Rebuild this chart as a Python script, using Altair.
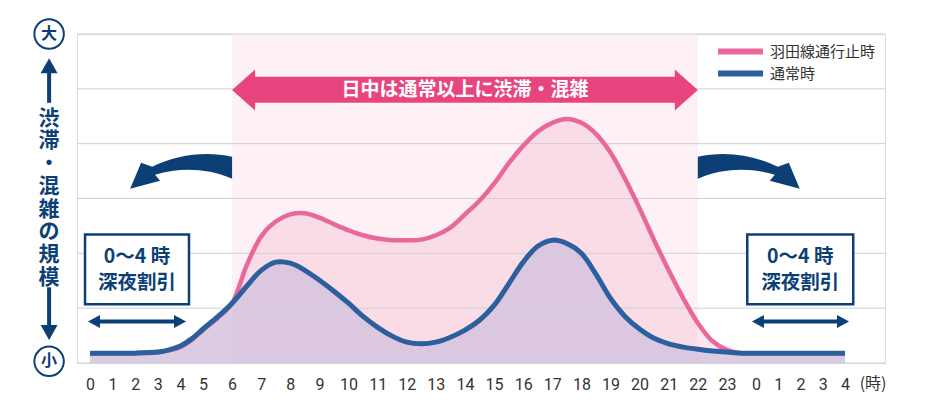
import altair as alt
import pandas as pd

# ---------------- data ----------------
hours = [0, 1, 2, 3, 3.5, 4, 4.5, 5, 5.5, 6, 6.5, 7, 7.5, 8, 8.5, 9, 9.5, 10, 10.5, 11,
         11.5, 12, 12.5, 13, 13.5, 14, 14.5, 15, 15.5, 16, 16.5, 17, 17.5, 18, 18.5, 19,
         19.5, 20, 20.5, 21, 21.5, 22, 22.5, 23, 23.5, 24, 25, 26, 27, 28]
normal = [0.18, 0.18, 0.18, 0.20, 0.24, 0.31, 0.44, 0.62, 0.84, 1.09, 1.40, 1.69, 1.84,
          1.82, 1.69, 1.51, 1.31, 1.09, 0.85, 0.65, 0.49, 0.38, 0.35, 0.38, 0.47, 0.60,
          0.78, 1.05, 1.44, 1.84, 2.13, 2.24, 2.18, 2.00, 1.62, 1.18, 0.85, 0.62, 0.45,
          0.35, 0.29, 0.25, 0.22, 0.20, 0.18, 0.18, 0.18, 0.18, 0.18, 0.18]
closure = [0.18, 0.18, 0.18, 0.19, 0.23, 0.29, 0.42, 0.60, 0.82, 1.09, 1.78, 2.31, 2.58,
           2.71, 2.73, 2.65, 2.53, 2.42, 2.33, 2.27, 2.24, 2.24, 2.25, 2.33, 2.47, 2.71,
           2.96, 3.27, 3.64, 3.96, 4.22, 4.38, 4.45, 4.38, 4.18, 3.84, 3.36, 2.82, 2.24,
           1.69, 1.18, 0.73, 0.40, 0.24, 0.18, 0.18, 0.18, 0.18, 0.18, 0.18]
series_names = ["羽田線通行止時", "通常時"]
tick_hours = list(range(0, 29))
grid_levels = [0, 1, 2, 3, 4, 5, 6]
daytime_span = [6, 22]
night_spans = [[-0.22, 4.38], [23.70, 28.37]]
night_arrows = [[-0.09, 4.25], [23.86, 28.18]]
night_text_x = [2.08, 25.99]
banner_text = "日中は通常以上に渋滞・混雑"
box_line1 = "0～4 時"
box_line2 = "深夜割引"
axis_title_chars = ["渋", "滞", "・", "混", "雑", "の", "規", "模"]
unit_label = "(時)"

# ---------------- styles ----------------
PINK = "#e9679a"
BLUE = "#2b5f9e"
NAVY = "#0d3f77"
BANNER = "#e84580"
BAND = "#fdf1f5"
GRID = "#cfcfcf"
CJK = "Noto Sans CJK JP"
CURVE = "catmull-rom"

xs = alt.Scale(domain=[0, 5, 24, 28], range=[13, 126, 679, 768], nice=False, zero=False)
ys = alt.Scale(domain=[0, 6], nice=False, zero=False)
xaxis = alt.Axis(values=tick_hours,
                 labelExpr="'' + (datum.value >= 24 ? datum.value - 24 : datum.value)",
                 grid=False, domain=False, ticks=False, tickSize=0, labelPadding=21,
                 labelBaseline="middle", labelFontSize=16, labelColor="#333333",
                 labelFont="Roboto", title=None, labelOverlap=False, labelFlush=False)


def X(field):
    return alt.X(field, type="quantitative", scale=xs, axis=xaxis)


def Y(field):
    return alt.Y(field, type="quantitative", scale=ys, axis=None)


lines_df = pd.DataFrame({
    "hour": hours + hours,
    "level": closure + normal,
    "series": [series_names[0]] * len(hours) + [series_names[1]] * len(hours),
})
pink_df = lines_df[lines_df.series == series_names[0]]
blue_df = lines_df[lines_df.series == series_names[1]]

band = alt.Chart(pd.DataFrame({"x0": [daytime_span[0]], "x1": [daytime_span[1]],
                               "y0": [0], "y1": [6]})).mark_rect(color=BAND).encode(
    x=X("x0"), x2="x1", y=Y("y0"), y2="y1")

pink_area = alt.Chart(pink_df).mark_area(interpolate=CURVE, color="#f4b2c8",
                                         opacity=0.32).encode(x=X("hour"), y=Y("level"))
blue_area = alt.Chart(blue_df).mark_area(interpolate=CURVE, color="#b6acd8",
                                         opacity=0.45).encode(x=X("hour"), y=Y("level"))

grid = alt.Chart(pd.DataFrame({"g": grid_levels})).mark_rule(color=GRID, strokeWidth=1).encode(
    y=Y("g"))

color_scale = alt.Scale(domain=series_names, range=[PINK, BLUE])
legend = alt.Legend(orient="none", legendX=638, legendY=10, title=None,
                    symbolType="stroke", symbolSize=2025, symbolStrokeWidth=6,
                    labelFontSize=15, labelFont=CJK, labelColor="#333333",
                    labelOffset=4, rowPadding=6, clipHeight=15)

pink_line = alt.Chart(pink_df).mark_line(interpolate=CURVE, strokeWidth=4.5).encode(
    x=X("hour"), y=Y("level"), color=alt.Color("series:N", scale=color_scale, legend=legend))
blue_line = alt.Chart(blue_df).mark_line(interpolate=CURVE, strokeWidth=5).encode(
    x=X("hour"), y=Y("level"), color=alt.Color("series:N", scale=color_scale, legend=legend))

# ---------------- banner arrow ----------------
banner_body = alt.Chart(pd.DataFrame({"x0": [6.5], "x1": [21.5], "y0": [4.745], "y1": [5.22]})
                        ).mark_rect(color=BANNER).encode(x=X("x0"), x2="x1", y=Y("y0"), y2="y1")
banner_heads = alt.Chart(pd.DataFrame({
    "x": daytime_span, "y": [4.98, 4.98],
    "shape": ["M0,0 L23,-20.5 L23,20.5 Z", "M0,0 L-23,-20.5 L-23,20.5 Z"]})
).mark_point(filled=True, size=4, opacity=1, strokeWidth=0, color=BANNER).encode(
    x=X("x"), y=Y("y"), shape=alt.Shape("shape:N", scale=None))
banner_text_layer = alt.Chart(pd.DataFrame({"x": [14.0], "y": [4.98], "t": [banner_text]})
                              ).mark_text(font=CJK, fontSize=19, fontWeight="bold",
                                          color="white").encode(x=X("x"), y=Y("y"), text="t:N")

# ---------------- curved arrows ----------------
curved = alt.Chart(pd.DataFrame({
    "x": daytime_span, "y": [3.58, 3.58],
    "shape": [
        "M0,-10 C-27,-16 -55,-12 -80,0 L-91,-4 L-102,22 L-72,14 L-77,8 C-52,1 -27,1 0,12 Z",
        "M0,-10 C27,-16 55,-12 80,0 L91,-4 L102,22 L72,14 L77,8 C52,1 27,1 0,12 Z"]})
).mark_point(filled=True, size=4, opacity=1, strokeWidth=0, color=NAVY).encode(
    x=X("x"), y=Y("y"), shape=alt.Shape("shape:N", scale=None))

# ---------------- night boxes ----------------
boxes = alt.Chart(pd.DataFrame({"x0": [s[0] for s in night_spans], "x1": [s[1] for s in night_spans],
                                "y0": [1.07, 1.07], "y1": [2.345, 2.345]})
                  ).mark_rect(fill="white", stroke=NAVY, strokeWidth=2.5).encode(
    x=X("x0"), x2="x1", y=Y("y0"), y2="y1")
box_text = alt.Chart(pd.DataFrame({
    "x": night_text_x * 2, "y": [1.94, 1.94, 1.46, 1.46],
    "t": [box_line1, box_line1, box_line2, box_line2]})
).mark_text(font=CJK, fontSize=19.5, fontWeight="bold", color=NAVY).encode(
    x=X("x"), y=Y("y"), text="t:N")

night_rule = alt.Chart(pd.DataFrame({"x0": [0.3, 24.18], "x1": [3.9, 27.82], "y": [0.755, 0.755]})
                       ).mark_rule(color=NAVY, strokeWidth=4).encode(x=X("x0"), x2="x1", y=Y("y"))
night_heads = alt.Chart(pd.DataFrame({
    "x": [night_arrows[0][0], night_arrows[0][1], night_arrows[1][0], night_arrows[1][1]],
    "y": [0.755] * 4,
    "shape": ["M0,0 L12,-6.5 L12,6.5 Z", "M0,0 L-12,-6.5 L-12,6.5 Z"] * 2})
).mark_point(filled=True, size=4, opacity=1, strokeWidth=0, color=NAVY).encode(
    x=X("x"), y=Y("y"), shape=alt.Shape("shape:N", scale=None))

# ---------------- left scale decoration ----------------
LX = -1.81
circles = alt.Chart(pd.DataFrame({"x": [LX, LX], "y": [6, 0.03], "t": ["大", "小"]})
                    ).mark_point(shape="circle", size=870, filled=False, opacity=1, fill="white",
                                 fillOpacity=1, stroke=NAVY, strokeWidth=2).encode(x=X("x"), y=Y("y"))
circle_text = alt.Chart(pd.DataFrame({"x": [LX, LX], "y": [6, 0.03], "t": ["大", "小"]})
                        ).mark_text(font=CJK, fontSize=16, fontWeight="bold", color=NAVY).encode(
    x=X("x"), y=Y("y"), text="t:N")
v_rules = alt.Chart(pd.DataFrame({"x": [LX, LX], "y0": [5.30, 1.38], "y1": [4.745, 0.66]})
                    ).mark_rule(color=NAVY, strokeWidth=4).encode(x=X("x"), y=Y("y0"), y2="y1")
v_heads = alt.Chart(pd.DataFrame({
    "x": [LX, LX], "y": [5.56, 0.418],
    "shape": ["M0,0 L-8.5,15 L8.5,15 Z", "M0,0 L-8.5,-15 L8.5,-15 Z"]})
).mark_point(filled=True, size=4, opacity=1, strokeWidth=0, color=NAVY).encode(
    x=X("x"), y=Y("y"), shape=alt.Shape("shape:N", scale=None))
v_title = alt.Chart(pd.DataFrame({"x": [LX], "y": [4.455]})).mark_text(
    font=CJK, fontSize=21, fontWeight="bold", color=NAVY, lineHeight=22.7, baseline="middle"
).encode(x=X("x"), y=Y("y"), text=alt.value(axis_title_chars))

unit = alt.Chart(pd.DataFrame({"x": [29.26], "y": [-0.38], "t": [unit_label]})).mark_text(
    font=CJK, fontSize=16, color="#333333").encode(x=X("x"), y=Y("y"), text="t:N")

chart = alt.layer(
    band, pink_area, blue_area, grid, pink_line, blue_line,
    banner_body, banner_heads, banner_text_layer, curved,
    boxes, box_text, night_rule, night_heads,
    circles, circle_text, v_rules, v_heads, v_title, unit,
).properties(
    width=808, height=329,
    autosize=alt.AutoSizeParams(type="none"),
    padding={"left": 69, "top": 26, "right": 42, "bottom": 35},
).configure_view(stroke=None).configure(background="white")

chart.save("out.html", embed_options={"renderer": "svg", "actions": False})
